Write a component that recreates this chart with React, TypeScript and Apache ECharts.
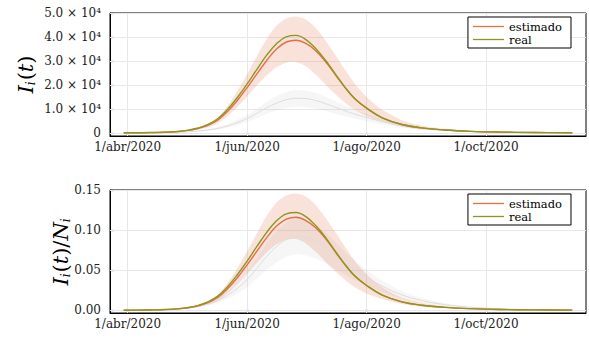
import React, { useEffect, useRef } from "react";
import * as echarts from "echarts";

// days counted from 1 April 2020
const days = [-2, 5, 12, 19, 26, 31, 36, 41, 46, 51, 56, 61, 66, 71, 76, 81, 86, 91, 96, 101, 106, 111, 116, 122, 130, 140, 150, 162, 175, 190, 208, 227];

// Top panel: I_i(t)
const realTop = [30, 60, 130, 300, 650, 1150, 2050, 3500, 5900, 9800, 14750, 20400, 26530, 32400, 37190, 40080, 40650, 38900, 35200, 30300, 24600, 19000, 14200, 10300, 6300, 3500, 2100, 1200, 650, 330, 150, 70];
const estTop = [30, 55, 120, 280, 600, 1050, 1850, 3150, 5300, 8900, 13500, 18900, 24600, 30200, 35000, 37900, 38650, 37300, 34300, 29800, 24300, 18900, 14200, 10300, 6300, 3500, 2100, 1200, 650, 330, 150, 70];
const estHiTop = [35, 65, 140, 320, 700, 1250, 2150, 3750, 6300, 11200, 17500, 24500, 32000, 39200, 44700, 47700, 48500, 47300, 43800, 38500, 32500, 26300, 20500, 15000, 9600, 5300, 3100, 1700, 900, 450, 200, 90];
const estLoTop = [25, 45, 100, 240, 500, 850, 1450, 2400, 3900, 7000, 10800, 15200, 19800, 24000, 27400, 29300, 29600, 27800, 24300, 20200, 16200, 12600, 9600, 7000, 4700, 2600, 1500, 800, 420, 200, 90, 40];
const grayTop = [15, 30, 60, 130, 270, 450, 750, 1200, 1900, 2900, 4300, 6000, 8200, 10500, 12400, 13800, 14400, 14300, 13500, 12200, 10700, 9200, 7800, 6400, 4700, 3000, 1900, 1100, 600, 300, 140, 60];
const grayHiTop = [19, 37, 75, 160, 335, 560, 930, 1490, 2360, 3600, 5330, 7440, 10200, 13000, 15400, 17100, 17900, 17700, 16700, 15100, 13300, 11400, 9700, 7900, 5800, 3700, 2400, 1400, 740, 370, 170, 75];
const grayLoTop = [11, 22, 45, 97, 200, 340, 560, 900, 1420, 2180, 3230, 4500, 6150, 7900, 9300, 10400, 10900, 10700, 10100, 9150, 8000, 6900, 5850, 4800, 3500, 2250, 1400, 820, 450, 225, 105, 45];

// Bottom panel: I_i(t)/N_i
const realBot = [0.0001, 0.0002, 0.0004, 0.0009, 0.0020, 0.0035, 0.0062, 0.0105, 0.0177, 0.0294, 0.0443, 0.0612, 0.0796, 0.0972, 0.1116, 0.1202, 0.1220, 0.1167, 0.1056, 0.0909, 0.0738, 0.0570, 0.0426, 0.0309, 0.0189, 0.0105, 0.0063, 0.0036, 0.0020, 0.0010, 0.0005, 0.0002];
const estBot = [0.0001, 0.0002, 0.0004, 0.0008, 0.0018, 0.0032, 0.0056, 0.0095, 0.0159, 0.0267, 0.0405, 0.0567, 0.0738, 0.0906, 0.1050, 0.1137, 0.1160, 0.1119, 0.1029, 0.0894, 0.0729, 0.0567, 0.0426, 0.0309, 0.0189, 0.0105, 0.0063, 0.0036, 0.0020, 0.0010, 0.0005, 0.0002];
const estHiBot = [0.0001, 0.0002, 0.0004, 0.0010, 0.0021, 0.0038, 0.0065, 0.0113, 0.0189, 0.0336, 0.0525, 0.0735, 0.0960, 0.1176, 0.1341, 0.1431, 0.1455, 0.1419, 0.1314, 0.1155, 0.0975, 0.0789, 0.0615, 0.0450, 0.0288, 0.0159, 0.0093, 0.0051, 0.0027, 0.0014, 0.0006, 0.0003];
const estLoBot = [0.0001, 0.0001, 0.0003, 0.0007, 0.0015, 0.0026, 0.0044, 0.0072, 0.0117, 0.0210, 0.0324, 0.0456, 0.0594, 0.0720, 0.0822, 0.0879, 0.0888, 0.0834, 0.0729, 0.0606, 0.0486, 0.0378, 0.0288, 0.0210, 0.0141, 0.0078, 0.0045, 0.0024, 0.0013, 0.0006, 0.0003, 0.0001];
const grayBot = [0.0001, 0.0002, 0.0004, 0.0008, 0.0017, 0.0029, 0.0048, 0.0077, 0.0122, 0.0186, 0.0275, 0.0384, 0.0525, 0.0672, 0.0794, 0.0883, 0.0922, 0.0915, 0.0864, 0.0781, 0.0685, 0.0589, 0.0499, 0.0410, 0.0301, 0.0192, 0.0122, 0.0070, 0.0038, 0.0019, 0.0009, 0.0004];
const grayHiBot = [0.0001, 0.0002, 0.0005, 0.0010, 0.0021, 0.0036, 0.0060, 0.0095, 0.0151, 0.0230, 0.0341, 0.0476, 0.0653, 0.0832, 0.0986, 0.1094, 0.1146, 0.1133, 0.1069, 0.0966, 0.0851, 0.0730, 0.0621, 0.0506, 0.0371, 0.0237, 0.0154, 0.0090, 0.0047, 0.0024, 0.0011, 0.0005];
const grayLoBot = [0.0001, 0.0001, 0.0003, 0.0006, 0.0013, 0.0022, 0.0036, 0.0058, 0.0091, 0.0140, 0.0207, 0.0288, 0.0394, 0.0506, 0.0595, 0.0666, 0.0698, 0.0685, 0.0646, 0.0586, 0.0512, 0.0442, 0.0374, 0.0307, 0.0224, 0.0144, 0.0090, 0.0052, 0.0029, 0.0014, 0.0007, 0.0003];

// Axis ticks
const xTickDays = [0, 61, 122, 183];
const xTickLabels = ["1/abr/2020", "1/jun/2020", "1/ago/2020", "1/oct/2020"];
const yTicksTop = [0, 10000, 20000, 30000, 40000, 50000];
const yTicksBot = [0, 0.05, 0.1, 0.15];
const legendNames = ["estimado", "real"];

const FONT = "DejaVu Serif";
const ORANGE = "#E36F47";
const OLIVE = "#8E971D";
const GRID = "#e8e8e8";

const pairs = (ys: number[]) => days.map((d, i) => [d, ys[i]]);

function band(g: number, name: string, hi: number[], lo: number[], fill: string) {
  return {
    type: "custom",
    name,
    xAxisIndex: g,
    yAxisIndex: g,
    silent: true,
    data: [[days[0], lo[0]]],
    encode: { x: 0, y: 1 },
    renderItem: (_params: any, api: any) => {
      const upper = days.map((d, i) => api.coord([d, hi[i]]));
      const lower = days.map((d, i) => api.coord([d, lo[i]])).reverse();
      return {
        type: "polygon",
        shape: { points: upper.concat(lower), smooth: 0.25 },
        style: { fill, stroke: null },
      };
    },
  };
}

function buildSeries(g: number, lo: number[], hi: number[], gr: number[], elo: number[], ehi: number[], est: number[], real: number[], yTicks: number[]) {
  const base = { xAxisIndex: g, yAxisIndex: g, type: "line", showSymbol: false, symbol: "none", smooth: 0.4, silent: true };
  return [
    {
      ...base,
      name: "grid" + g,
      z: 1,
      data: [],
      markLine: {
        z: 1,
        silent: true,
        symbol: ["none", "none"],
        label: { show: false },
        lineStyle: { color: GRID, width: 1, type: "solid" },
        data: [...xTickDays.map((d) => ({ xAxis: d })), ...yTicks.map((v) => ({ yAxis: v }))],
      },
    },
    band(g, "grayBand" + g, hi, lo, "rgba(150,150,150,0.09)"),
    { ...base, name: "gray" + g, data: pairs(gr), lineStyle: { color: "#dcdcdc", width: 1 } },
    band(g, "estBand" + g, ehi, elo, "rgba(227,111,71,0.2)"),
    { ...base, name: "estimado", data: pairs(est), lineStyle: { color: ORANGE, width: 1.4 }, itemStyle: { color: ORANGE } },
    { ...base, name: "real", data: pairs(real), lineStyle: { color: OLIVE, width: 1.4 }, itemStyle: { color: OLIVE } },
  ];
}

function xAxis(g: number) {
  return {
    type: "value",
    gridIndex: g,
    min: -9,
    max: 234,
    axisLine: { show: true, onZero: false, lineStyle: { color: "#000", width: 1 } },
    axisTick: { show: true, inside: true, length: 4, customValues: xTickDays, lineStyle: { color: "#333", width: 1.2 } },
    axisLabel: {
      customValues: xTickDays,
      margin: 5,
      fontFamily: FONT,
      fontSize: 12,
      color: "#222",
      formatter: (v: number) => xTickLabels[xTickDays.indexOf(v)] ?? "",
    },
    splitLine: { show: false },
  };
}

const legendBase = {
  data: legendNames,
  orient: "vertical",
  right: 18,
  icon: "rect",
  itemWidth: 31,
  itemHeight: 1.3,
  itemGap: 0,
  padding: [3, 9, 2, 5],
  borderColor: "#000",
  borderWidth: 1,
  borderRadius: 0,
  backgroundColor: "#fff",
  selectedMode: false,
  textStyle: { fontFamily: FONT, fontSize: 11.5, color: "#000", lineHeight: 13 },
};

const yName = (text: string, gap: number) => ({
  name: text,
  nameLocation: "middle",
  nameRotate: 90,
  nameGap: gap,
  nameMoveOverlap: false,
  nameTextStyle: {
    rich: {
      it: { fontFamily: FONT, fontStyle: "italic", fontSize: 21, color: "#000" },
      n: { fontFamily: FONT, fontSize: 21, color: "#000" },
      sub: { fontFamily: FONT, fontStyle: "italic", fontSize: 12, color: "#000", verticalAlign: "bottom", padding: [10, 1, 0, 0] },
    },
  },
});

export default function App() {
  const ref = useRef<HTMLDivElement>(null);
  useEffect(() => {
    if (!ref.current) return;
    const chart = echarts.init(ref.current, null, { renderer: "svg" });
    chart.setOption({
      animation: false,
      backgroundColor: "#fff",
      grid: [
        { left: 110, right: 3, top: 13, height: 123, show: true, borderColor: "#000", borderWidth: 1, backgroundColor: "transparent" },
        { left: 110, right: 3, top: 190, height: 123, show: true, borderColor: "#000", borderWidth: 1, backgroundColor: "transparent" },
      ],
      legend: [
        { ...legendBase, top: 17 },
        { ...legendBase, top: 194 },
      ],
      xAxis: [xAxis(0), xAxis(1)],
      yAxis: [
        {
          type: "value",
          gridIndex: 0,
          min: -1300,
          max: 50000,
          ...yName("{it|I}{sub|i}{n|(}{it|t}{n|)}", 73),
          axisLine: { show: true, onZero: false, lineStyle: { color: "#000", width: 1 } },
          axisTick: { show: true, inside: true, length: 4, customValues: yTicksTop, lineStyle: { color: "#333", width: 1.2 } },
          axisLabel: {
            customValues: yTicksTop,
            margin: 9,
            fontFamily: FONT,
            fontSize: 12,
            color: "#222",
            formatter: (v: number) => (v === 0 ? "0" : `${(v / 10000).toFixed(1)} × 10⁴`),
          },
          splitLine: { show: false },
        },
        {
          type: "value",
          gridIndex: 1,
          min: -0.0034,
          max: 0.15,
          ...yName("{it|I}{sub|i}{n|(}{it|t}{n|)/}{it|N}{sub|i}", 38),
          axisLine: { show: true, onZero: false, lineStyle: { color: "#000", width: 1 } },
          axisTick: { show: true, inside: true, length: 4, customValues: yTicksBot, lineStyle: { color: "#333", width: 1.2 } },
          axisLabel: {
            customValues: yTicksBot,
            margin: 9,
            fontFamily: FONT,
            fontSize: 12,
            color: "#222",
            formatter: (v: number) => v.toFixed(2),
          },
          splitLine: { show: false },
        },
      ],
      series: [
        ...buildSeries(0, grayLoTop, grayHiTop, grayTop, estLoTop, estHiTop, estTop, realTop, yTicksTop),
        ...buildSeries(1, grayLoBot, grayHiBot, grayBot, estLoBot, estHiBot, estBot, realBot, yTicksBot),
      ],
    });
    return () => chart.dispose();
  }, []);
  return <div ref={ref} style={{ position: "fixed", left: 0, top: 0, width: 589, height: 339, background: "#fff" }} />;
}
